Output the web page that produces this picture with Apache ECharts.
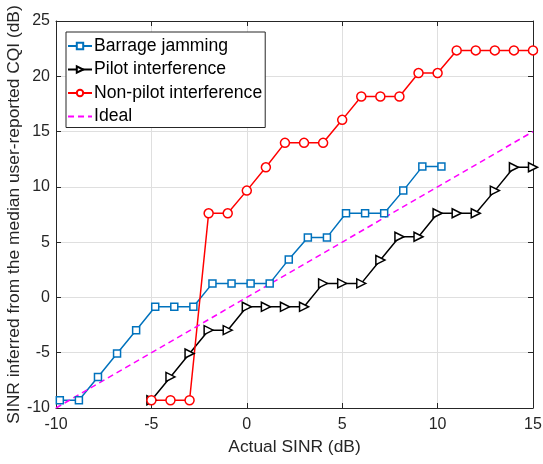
<!DOCTYPE html>
<html><head><meta charset="utf-8">
<script src="https://cdn.jsdelivr.net/npm/echarts@6/dist/echarts.min.js"></script>
<style>html,body{margin:0;padding:0;background:#fff}#c{width:543px;height:464px}</style>
</head><body><div id="c"></div>
<script>
const barrageX = [-9.8,-8.8,-7.8,-6.8,-5.8,-4.8,-3.8,-2.8,-1.8,-0.8,0.2,1.2,2.2,3.2,4.2,5.2,6.2,7.2,8.2,9.2,10.2];
const barrageY = [-9.3,-9.3,-7.19,-5.07,-2.96,-0.85,-0.85,-0.85,1.27,1.27,1.27,1.27,3.44,5.43,5.43,7.61,7.61,7.61,9.66,11.83,11.83];
const pilotX = [-5,-4,-3,-2,-1,0,1,2,3,4,5,6,7,8,9,10,11,12,13,14,15];
const pilotY = [-9.3,-7.19,-5.07,-2.96,-2.96,-0.85,-0.85,-0.85,-0.85,1.27,1.27,1.27,3.38,5.49,5.49,7.61,7.61,7.61,9.66,11.77,11.77];
const nonPilotX = [-5,-4,-3,-2,-1,0,1,2,3,4,5,6,7,8,9,10,11,12,13,14,15];
const nonPilotY = [-9.3,-9.3,-9.3,7.61,7.61,9.66,11.77,13.98,13.98,13.98,16.06,18.17,18.17,18.17,20.29,20.29,22.34,22.34,22.34,22.34,22.34];
const idealX = [-10,15];
const idealY = [-10,15];
const seriesNames = ['Barrage jamming','Pilot interference','Non-pilot interference','Ideal'];
const xTicks = [-10,15,5];
const yTicks = [-10,25,5];

const pair = (xs, ys) => xs.map((x,i)=>[x, ys[i]]);
const FONT = 'Liberation Sans';
const FS = 16;
const FT = 17.4;
const chart = echarts.init(document.getElementById('c'));
const axisLine = {show:true, onZero:false, lineStyle:{color:'#262626', width:1}};
const tick = {show:true, inside:true, length:5, lineStyle:{color:'#262626'}};
chart.setOption({
  animation:false,
  textStyle:{fontFamily:FONT},
  grid:{left:56, right:10, top:21, bottom:56, containLabel:false, outerBoundsMode:'none'},
  legend:{
    orient:'vertical', left:66, top:32,
    backgroundColor:'#fff', borderColor:'#262626', borderWidth:1,
    padding:[5,3,2,1], itemGap:5.5, itemWidth:24, itemHeight:8,
    textStyle:{fontFamily:FONT, fontSize:17.6, color:'#000', padding:[0,0,0,-3]},
    data:seriesNames
  },
  xAxis:[{
    type:'value', min:xTicks[0], max:xTicks[1], interval:xTicks[2],
    name:'Actual SINR (dB)', nameLocation:'middle', nameGap:31, nameMoveOverlap:false,
    nameTextStyle:{fontFamily:FONT, fontSize:FT, color:'#262626'},
    axisLine, axisTick:tick,
    axisLabel:{fontFamily:FONT, fontSize:FS, color:'#262626', margin:9},
    splitLine:{show:true, lineStyle:{color:'#dfdfdf', width:1}}
  },{
    type:'value', position:'top', min:xTicks[0], max:xTicks[1], interval:xTicks[2],
    axisLine, axisTick:tick, axisLabel:{show:false}, splitLine:{show:false}
  }],
  yAxis:[{
    type:'value', min:yTicks[0], max:yTicks[1], interval:yTicks[2],
    name:'SINR inferred from the median user-reported CQI (dB)', nameLocation:'middle', nameGap:33, nameMoveOverlap:false,
    nameTextStyle:{fontFamily:FONT, fontSize:FT, color:'#262626'},
    axisLine, axisTick:tick,
    axisLabel:{fontFamily:FONT, fontSize:FS, color:'#262626', margin:6},
    splitLine:{show:true, lineStyle:{color:'#dfdfdf', width:1}}
  },{
    type:'value', position:'right', min:yTicks[0], max:yTicks[1], interval:yTicks[2],
    axisLine, axisTick:tick, axisLabel:{show:false}, splitLine:{show:false}
  }],
  series:[
    {name:seriesNames[0], type:'line', data:pair(barrageX, barrageY), symbol:'rect', symbolSize:7,
     showAllSymbol:true,
     lineStyle:{color:'#0072BD', width:1.5}, itemStyle:{color:'#fff', borderColor:'#0072BD', borderWidth:1.5}, color:'#0072BD'},
    {name:seriesNames[1], type:'line', data:pair(pilotX, pilotY), symbol:'triangle', symbolRotate:-90, symbolSize:9,
     showAllSymbol:true,
     lineStyle:{color:'#000', width:1.5}, itemStyle:{color:'#fff', borderColor:'#000', borderWidth:1.5}, color:'#000'},
    {name:seriesNames[2], type:'line', data:pair(nonPilotX, nonPilotY), symbol:'circle', symbolSize:9,
     showAllSymbol:true,
     lineStyle:{color:'#FF0000', width:1.5}, itemStyle:{color:'#fff', borderColor:'#FF0000', borderWidth:1.5}, color:'#FF0000'},
    {name:seriesNames[3], type:'line', data:pair(idealX, idealY), symbol:'none',
     lineStyle:{color:'#FF00FF', width:1.5, type:[6,4]}, itemStyle:{color:'rgba(0,0,0,0)', borderColor:'rgba(0,0,0,0)'}, color:'#FF00FF'}
  ]
});
</script></body></html>
